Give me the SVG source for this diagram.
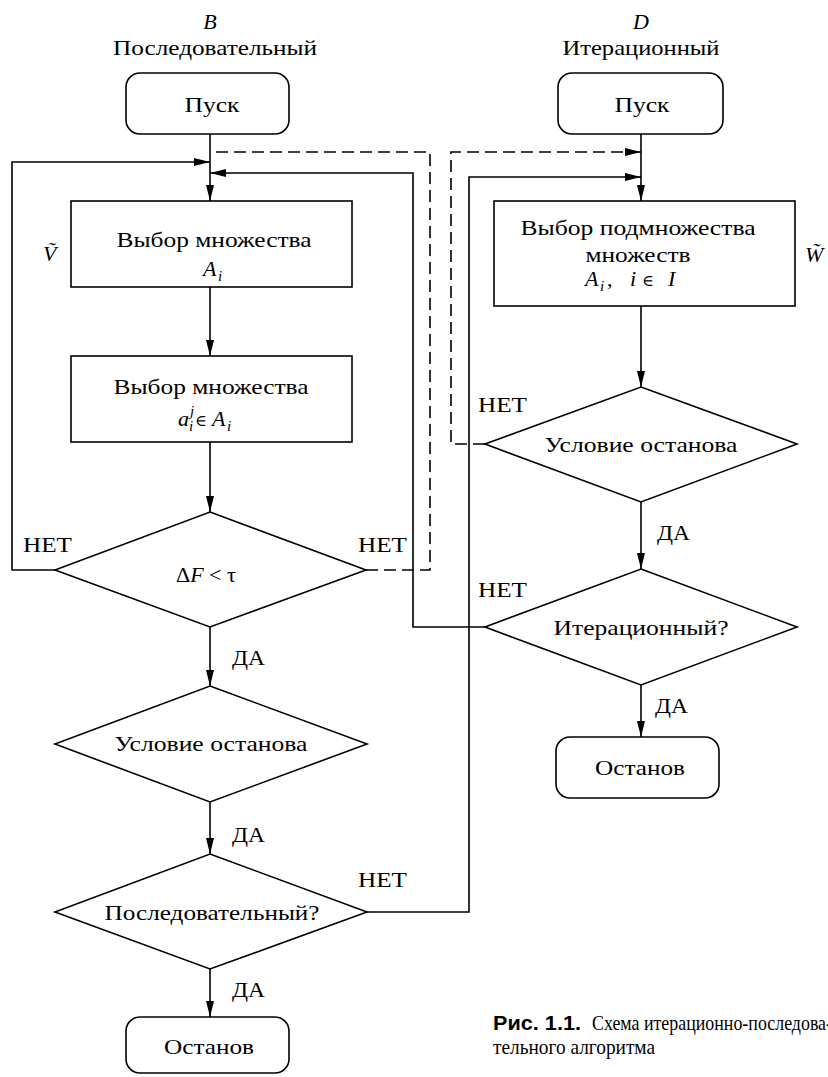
<svg xmlns="http://www.w3.org/2000/svg" width="828" height="1077" viewBox="0 0 828 1077">
<style>
text{font-family:"Liberation Serif","DejaVu Serif","Noto Serif",serif;font-size:22px;fill:#000}
.c{text-anchor:middle}
.it{font-style:italic}
.sm{font-size:15px;font-style:italic}
.shape{fill:none;stroke:#000;stroke-width:1.6}
.ln{fill:none;stroke:#000;stroke-width:1.6}
.dash{fill:none;stroke:#000;stroke-width:1.6;stroke-dasharray:12 6}
.cap{font-size:21px}
.capb{font-family:"Liberation Sans","DejaVu Sans",Arial,sans-serif;font-weight:bold;font-size:20px}
</style>
<defs>
<marker id="ah" markerUnits="userSpaceOnUse" markerWidth="16" markerHeight="10" refX="16" refY="4" orient="auto">
<path d="M0,0 L16,4 L0,8 z" fill="#000"/>
</marker>
</defs>

<g id="headers">
<text class="c it" x="210" y="29">B</text>
<text class="c" x="215" y="55" textLength="204" lengthAdjust="spacingAndGlyphs">Последовательный</text>
<text class="c it" x="641" y="29">D</text>
<text class="c" x="641" y="55" textLength="157" lengthAdjust="spacingAndGlyphs">Итерационный</text>
</g>

<g id="connectors">
<line class="ln" x1="210" y1="134" x2="210" y2="201" marker-end="url(#ah)"/>
<line class="ln" x1="210" y1="287" x2="210" y2="356" marker-end="url(#ah)"/>
<line class="ln" x1="210" y1="442" x2="210" y2="512" marker-end="url(#ah)"/>
<line class="ln" x1="210" y1="627" x2="210" y2="686" marker-end="url(#ah)"/>
<line class="ln" x1="210" y1="802" x2="210" y2="854" marker-end="url(#ah)"/>
<line class="ln" x1="210" y1="969" x2="210" y2="1017" marker-end="url(#ah)"/>
<polyline class="ln" points="55,570 12,570 12,162 210,162" marker-end="url(#ah)"/>
<polyline class="dash" points="366,570 430,570 430,152 212,152"/>
<polyline class="ln" points="485,627 413,627 413,173 210,173" marker-end="url(#ah)"/>
<line class="ln" x1="641" y1="134" x2="641" y2="201" marker-end="url(#ah)"/>
<line class="ln" x1="641" y1="306" x2="641" y2="387" marker-end="url(#ah)"/>
<line class="ln" x1="641" y1="502" x2="641" y2="569" marker-end="url(#ah)"/>
<line class="ln" x1="641" y1="685" x2="641" y2="737" marker-end="url(#ah)"/>
<polyline class="dash" points="485,444 451,444 451,152 641,152" marker-end="url(#ah)"/>
<polyline class="ln" points="367,912 469,912 469,177 641,177" marker-end="url(#ah)"/>
<text x="23" y="552" textLength="49" lengthAdjust="spacingAndGlyphs">НЕТ</text>
<text x="358" y="552" textLength="49" lengthAdjust="spacingAndGlyphs">НЕТ</text>
<text x="232" y="665" textLength="33" lengthAdjust="spacingAndGlyphs">ДА</text>
<text x="232" y="842" textLength="33" lengthAdjust="spacingAndGlyphs">ДА</text>
<text x="358" y="887" textLength="49" lengthAdjust="spacingAndGlyphs">НЕТ</text>
<text x="232" y="997" textLength="33" lengthAdjust="spacingAndGlyphs">ДА</text>
<text x="478" y="412" textLength="49" lengthAdjust="spacingAndGlyphs">НЕТ</text>
<text x="657" y="540" textLength="33" lengthAdjust="spacingAndGlyphs">ДА</text>
<text x="478" y="597" textLength="49" lengthAdjust="spacingAndGlyphs">НЕТ</text>
<text x="655" y="713" textLength="33" lengthAdjust="spacingAndGlyphs">ДА</text>
</g>

<g id="start-left">
<rect class="shape" x="126" y="73" width="163" height="61" rx="14"/>
<text class="c" x="212" y="112" textLength="55" lengthAdjust="spacingAndGlyphs">Пуск</text>
</g>
<g id="select-A">
<rect class="shape" x="71" y="201" width="281" height="86"/>
<text class="c" x="214" y="247" textLength="195" lengthAdjust="spacingAndGlyphs">Выбор множества</text>
<text class="it" x="203" y="276">A</text><text class="sm" x="218" y="281">i</text>
</g>
<text id="v-tilde" class="it" x="43" y="261">V&#x303;</text>
<g id="select-a">
<rect class="shape" x="71" y="356" width="281" height="86"/>
<text class="c" x="211" y="394" textLength="195" lengthAdjust="spacingAndGlyphs">Выбор множества</text>
<text class="it" x="178" y="426">a</text><text class="sm" x="190" y="416">j</text><text class="sm" x="189" y="431">i</text>
<text x="195" y="426" style="font-size:16px">∈</text>
<text class="it" x="212" y="426">A</text><text class="sm" x="227" y="431">i</text>
</g>
<g id="cond-dF">
<polygon class="shape" points="210,512 366,570 210,627 55,570"/>
<text x="176" y="582">Δ<tspan class="it">F</tspan> &lt; τ</text>
</g>
<g id="stop-cond-left">
<polygon class="shape" points="210,686 367,744 210,802 55,744"/>
<text class="c" x="211" y="751" textLength="193" lengthAdjust="spacingAndGlyphs">Условие останова</text>
</g>
<g id="sequential-q">
<polygon class="shape" points="210,854 367,912 210,969 55,912"/>
<text class="c" x="212" y="920" textLength="215" lengthAdjust="spacingAndGlyphs">Последовательный?</text>
</g>
<g id="stop-left">
<rect class="shape" x="126" y="1017" width="163" height="56" rx="14"/>
<text class="c" x="209" y="1054" textLength="90" lengthAdjust="spacingAndGlyphs">Останов</text>
</g>

<g id="start-right">
<rect class="shape" x="558" y="73" width="165" height="61" rx="14"/>
<text class="c" x="642" y="112" textLength="55" lengthAdjust="spacingAndGlyphs">Пуск</text>
</g>
<g id="select-subset">
<rect class="shape" x="494" y="201" width="301" height="105"/>
<text class="c" x="638" y="235" textLength="235" lengthAdjust="spacingAndGlyphs">Выбор подмножества</text>
<text class="c" x="638" y="262" textLength="105" lengthAdjust="spacingAndGlyphs">множеств</text>
<text class="it" x="585" y="286">A</text><text class="sm" x="600" y="291">i</text>
<text x="607" y="286">,</text>
<text class="it" x="630" y="286">i</text>
<text x="642" y="286" style="font-size:16px">∈</text>
<text class="it" x="668" y="286">I</text>
</g>
<text id="w-tilde" class="it" x="805" y="262">W&#x303;</text>
<g id="stop-cond-right">
<polygon class="shape" points="641,387 797,444 641,502 485,444"/>
<text class="c" x="641" y="452" textLength="193" lengthAdjust="spacingAndGlyphs">Условие останова</text>
</g>
<g id="iterative-q">
<polygon class="shape" points="641,569 797,627 641,685 485,627"/>
<text class="c" x="641" y="635" textLength="175" lengthAdjust="spacingAndGlyphs">Итерационный?</text>
</g>
<g id="stop-right">
<rect class="shape" x="556" y="737" width="163" height="61" rx="14"/>
<text class="c" x="640" y="775" textLength="90" lengthAdjust="spacingAndGlyphs">Останов</text>
</g>

<g id="caption">
<text class="capb" x="493" y="1030" textLength="88" lengthAdjust="spacingAndGlyphs">Рис. 1.1.</text>
<text class="cap" x="592" y="1030" textLength="240" lengthAdjust="spacingAndGlyphs">Схема  итерационно-последова-</text>
<text class="cap" x="493" y="1054" textLength="162" lengthAdjust="spacingAndGlyphs">тельного алгоритма</text>
</g>
</svg>
